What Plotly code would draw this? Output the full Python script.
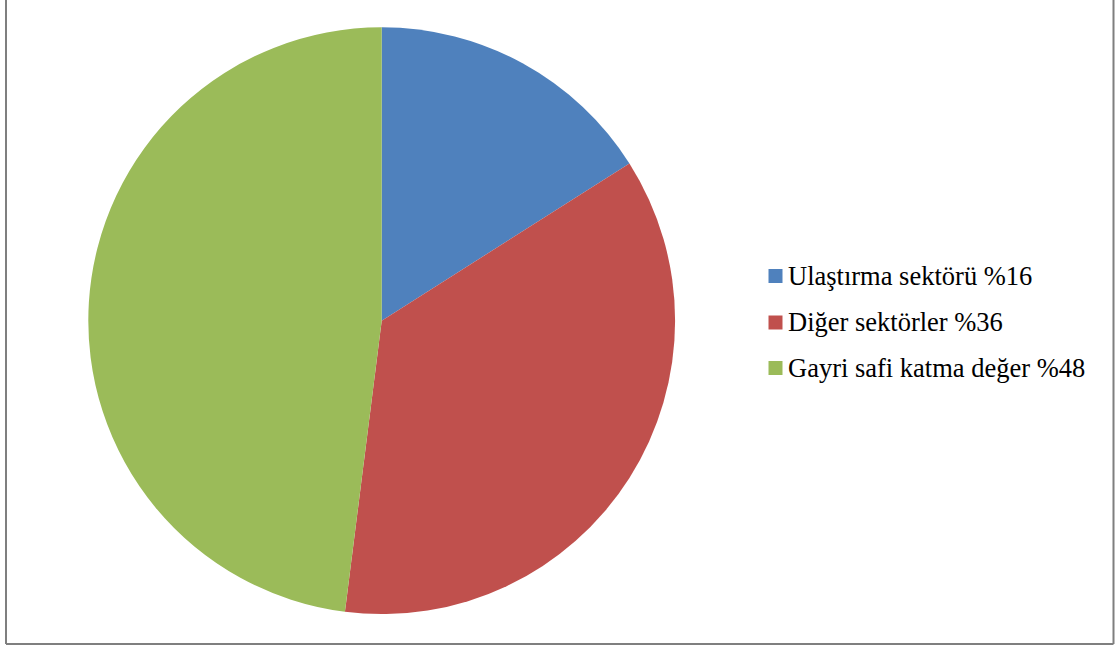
import plotly.graph_objects as go

labels = ["Ulaştırma sektörü %16", "Diğer sektörler %36", "Gayri safi katma değer %48"]
values = [16, 36, 48]
colors = ["#4F81BD", "#C0504D", "#9BBB59"]

W, H = 1120, 647

def px_x(x):
    return x / W

def px_y(y):
    return 1 - y / H

cx, cy, r = 381.7, 320.7, 293.4
FONT = "Liberation Serif"

fig = go.Figure(go.Pie(
    labels=labels,
    values=values,
    sort=False,
    direction="clockwise",
    rotation=0,
    textinfo="none",
    hoverinfo="label+percent",
    marker=dict(colors=colors, line=dict(width=0)),
    showlegend=False,
    domain=dict(x=[px_x(cx - r), px_x(cx + r)], y=[px_y(cy + r), px_y(cy - r)]),
))

shapes = []
annotations = []
row_y = [276, 322.5, 368]
for lab, col, yy in zip(labels, colors, row_y):
    shapes.append(dict(type="rect", xref="paper", yref="paper",
                       x0=px_x(768.5), x1=px_x(782.5), y0=px_y(yy + 7), y1=px_y(yy - 7),
                       fillcolor=col, line=dict(width=0)))
    annotations.append(dict(text=lab, xref="paper", yref="paper", x=px_x(786), y=px_y(yy),
                            xanchor="left", yanchor="middle", showarrow=False,
                            font=dict(family=FONT, size=26.5, color="#000000")))

# outer frame
for x0, y0, x1, y1 in [(6, -5, 6, 644), (1113.5, -5, 1113.5, 644), (6, 644, 1113.5, 644)]:
    shapes.append(dict(type="line", xref="paper", yref="paper",
                       x0=px_x(x0), y0=px_y(y0), x1=px_x(x1), y1=px_y(y1),
                       line=dict(color="#7f7f7f", width=2)))

fig.update_layout(
    width=W, height=H,
    margin=dict(l=0, r=0, t=0, b=0),
    paper_bgcolor="white",
    plot_bgcolor="white",
    shapes=shapes,
    annotations=annotations,
)

fig.write_html("out.html", config={"displayModeBar": False},
               post_script="document.body.style.margin='0';document.body.style.overflow='hidden';")
